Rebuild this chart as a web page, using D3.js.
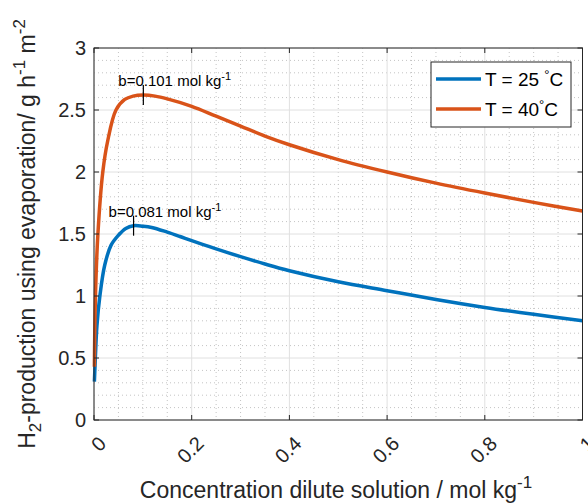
<!DOCTYPE html>
<html>
<head>
<meta charset="utf-8">
<script src="https://cdn.jsdelivr.net/npm/d3@7"></script>
<style>
  html, body { margin: 0; padding: 0; background: #fff; }
  svg { display: block; font-family: "Liberation Sans", Arial, Helvetica, sans-serif; }
</style>
</head>
<body>
<svg id="chart" width="588" height="503"></svg>
<script>
// Axis ticks
const xTicks = [0, 0.2, 0.4, 0.6, 0.8, 1];
const xTickLabels = ["0", "0.2", "0.4", "0.6", "0.8", "1"];
const yTicks = [0, 0.5, 1, 1.5, 2, 2.5, 3];
const yTickLabels = ["0", "0.5", "1", "1.5", "2", "2.5", "3"];

// Series: T = 25 °C
const conc25 = [0.0008, 0.003, 0.006, 0.012, 0.022, 0.035, 0.05, 0.065, 0.081, 0.1, 0.118, 0.15, 0.176, 0.2, 0.25, 0.3, 0.35, 0.4, 0.5, 0.6, 0.7, 0.8, 0.9, 1.0];
const rate25 = [0.31, 0.52, 0.76, 1.0, 1.25, 1.41, 1.49, 1.545, 1.567, 1.563, 1.553, 1.515, 1.48, 1.446, 1.38, 1.317, 1.258, 1.204, 1.115, 1.043, 0.972, 0.908, 0.852, 0.80];

// Series: T = 40 °C
const conc40 = [0.0008, 0.003, 0.008, 0.018, 0.028, 0.045, 0.063, 0.08, 0.101, 0.125, 0.15, 0.2, 0.25, 0.3, 0.35, 0.4, 0.5, 0.6, 0.7, 0.8, 0.9, 1.0];
const rate40 = [0.43, 1.0, 1.5, 2.0, 2.25, 2.5, 2.585, 2.612, 2.62, 2.612, 2.59, 2.53, 2.45, 2.37, 2.29, 2.22, 2.10, 2.00, 1.91, 1.83, 1.755, 1.685];

// Maxima annotations
const peakConc = [0.081, 0.101];
const peakRate = [1.567, 2.62];
const peakLabels = ["b=0.081 mol kg", "b=0.101 mol kg"];

const seriesTemps = ["25 ", "40"];
const seriesColors = ["#0072BD", "#D95319"];

const svg = d3.select("#chart");
const plot = { left: 94, right: 582.5, top: 48, bottom: 420 };
const axisColor = "#262626";

const x = d3.scaleLinear().domain([0, 1]).range([plot.left, plot.right]);
const y = d3.scaleLinear().domain([0, 3]).range([plot.bottom, plot.top]);

// Minor grid (dotted)
const xMinor = d3.range(0, 1.0001, 0.05).filter(v => Math.abs(v / 0.2 - Math.round(v / 0.2)) > 1e-6);
const yMinor = d3.range(0, 3.0001, 0.1).filter(v => Math.abs(v / 0.5 - Math.round(v / 0.5)) > 1e-6);
const grid = svg.append("g");
grid.selectAll("line.xm").data(xMinor).join("line")
  .attr("x1", d => x(d)).attr("x2", d => x(d))
  .attr("y1", plot.top).attr("y2", plot.bottom)
  .attr("stroke", "#c4c4c4").attr("stroke-width", 1).attr("stroke-dasharray", "1,3");
grid.selectAll("line.ym").data(yMinor).join("line")
  .attr("x1", plot.left).attr("x2", plot.right)
  .attr("y1", d => y(d)).attr("y2", d => y(d))
  .attr("stroke", "#c4c4c4").attr("stroke-width", 1).attr("stroke-dasharray", "1,3");

// Major grid
grid.selectAll("line.xg").data(xTicks).join("line")
  .attr("x1", d => x(d)).attr("x2", d => x(d))
  .attr("y1", plot.top).attr("y2", plot.bottom)
  .attr("stroke", "#e0e0e0").attr("stroke-width", 1);
grid.selectAll("line.yg").data(yTicks).join("line")
  .attr("x1", plot.left).attr("x2", plot.right)
  .attr("y1", d => y(d)).attr("y2", d => y(d))
  .attr("stroke", "#e0e0e0").attr("stroke-width", 1);

// Curves (centripetal Catmull-Rom keeps the steep rise smooth)
const line = d3.line().x(d => x(d[0])).y(d => y(d[1])).curve(d3.curveCatmullRom.alpha(0.5));
const series = [d3.zip(conc25, rate25), d3.zip(conc40, rate40)];
svg.append("g").selectAll("path").data(series).join("path")
  .attr("d", line)
  .attr("fill", "none")
  .attr("stroke", (d, i) => seriesColors[i])
  .attr("stroke-width", 3.5)
  .attr("stroke-linejoin", "round");

// Maxima markers and labels
const ann = svg.append("g");
peakConc.forEach((b, i) => {
  ann.append("line")
    .attr("x1", x(b)).attr("x2", x(b))
    .attr("y1", y(peakRate[i]) - 10).attr("y2", y(peakRate[i]) + 10)
    .attr("stroke", "#000").attr("stroke-width", 1.2);
  const t = ann.append("text")
    .attr("x", x(b) - 25).attr("y", y(peakRate[i]) - 9)
    .attr("font-size", 15).attr("fill", "#000");
  t.append("tspan").text(peakLabels[i]);
  t.append("tspan").attr("font-size", 11).attr("dy", -6).text("-1");
});

// Axes box and inward ticks
const axes = svg.append("g").attr("stroke", axisColor).attr("stroke-width", 1).attr("fill", "none");
axes.append("rect")
  .attr("x", plot.left).attr("y", plot.top)
  .attr("width", plot.right - plot.left).attr("height", plot.bottom - plot.top);
const tickLen = 5;
xTicks.forEach(v => {
  axes.append("line").attr("x1", x(v)).attr("x2", x(v)).attr("y1", plot.bottom).attr("y2", plot.bottom - tickLen);
  axes.append("line").attr("x1", x(v)).attr("x2", x(v)).attr("y1", plot.top).attr("y2", plot.top + tickLen);
});
yTicks.forEach(v => {
  axes.append("line").attr("x1", plot.left).attr("x2", plot.left + tickLen).attr("y1", y(v)).attr("y2", y(v));
  axes.append("line").attr("x1", plot.right).attr("x2", plot.right - tickLen).attr("y1", y(v)).attr("y2", y(v));
});

// Tick labels
svg.append("g").selectAll("text").data(yTicks).join("text")
  .attr("x", plot.left - 8).attr("y", d => y(d)).attr("dy", "0.35em")
  .attr("text-anchor", "end").attr("font-size", 20).attr("fill", axisColor)
  .text((d, i) => yTickLabels[i]);
svg.append("g").selectAll("text").data(xTicks).join("text")
  .attr("transform", d => `translate(${x(d) + 8.5},440) rotate(-45)`)
  .attr("dy", "0.35em")
  .attr("text-anchor", "end").attr("font-size", 20).attr("fill", axisColor)
  .text((d, i) => xTickLabels[i]);

// Axis titles
const xl = svg.append("text")
  .attr("x", 336).attr("y", 498)
  .attr("text-anchor", "middle").attr("font-size", 23).attr("fill", axisColor);
xl.append("tspan").text("Concentration dilute solution / mol kg");
xl.append("tspan").attr("font-size", 17).attr("dy", -10).text("-1");

const yl = svg.append("text")
  .attr("transform", `translate(35,${(plot.top + plot.bottom) / 2}) rotate(-90)`)
  .attr("text-anchor", "middle").attr("font-size", 23).attr("fill", axisColor);
yl.append("tspan").text("H");
yl.append("tspan").attr("font-size", 17).attr("dy", 6).text("2");
yl.append("tspan").attr("dy", -6).text("-production using evaporation/ g h");
yl.append("tspan").attr("font-size", 17).attr("dy", -10).text("-1");
yl.append("tspan").attr("dy", 10).text(" m");
yl.append("tspan").attr("font-size", 17).attr("dy", -10).text("-2");

// Legend
const lg = svg.append("g");
lg.append("rect").attr("x", 431).attr("y", 62).attr("width", 140).attr("height", 65)
  .attr("fill", "#fff").attr("stroke", axisColor).attr("stroke-width", 1);
seriesTemps.forEach((tmp, i) => {
  const ly = 79 + i * 30;
  lg.append("line").attr("x1", 436).attr("x2", 481).attr("y1", ly).attr("y2", ly)
    .attr("stroke", seriesColors[i]).attr("stroke-width", 3.5);
  const t = lg.append("text").attr("x", 485).attr("y", ly).attr("dy", "0.35em")
    .attr("font-size", 19).attr("fill", "#000");
  t.append("tspan").text("T = " + tmp);
  t.append("tspan").attr("font-size", 13).attr("dy", -7).text("°");
  t.append("tspan").attr("dy", 7).text("C");
});
</script>
</body>
</html>
